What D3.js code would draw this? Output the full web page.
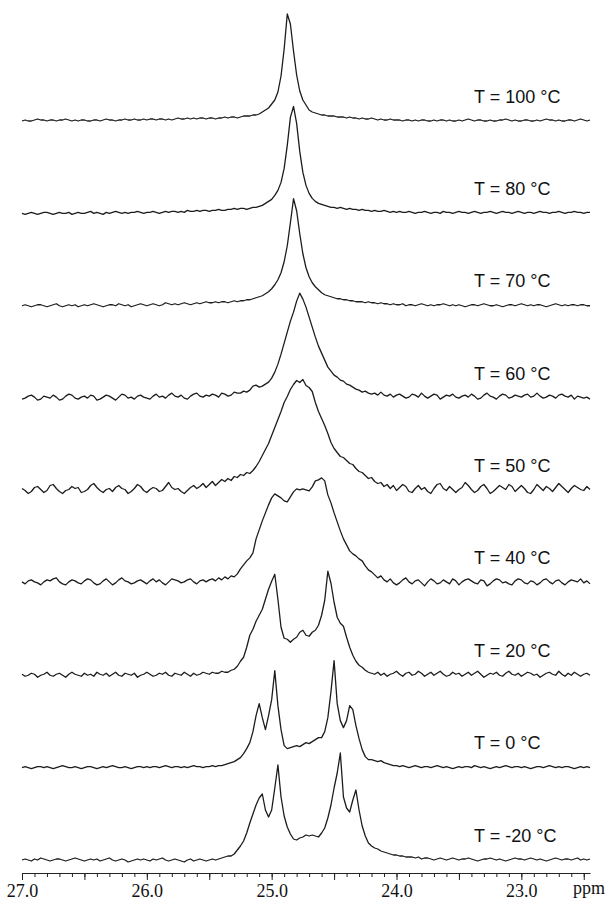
<!DOCTYPE html>
<html lang="en">
<head>
<meta charset="UTF-8">
<title>Variable-temperature spectra</title>
<script src="https://d3js.org/d3.v7.min.js"></script>
<style>
  body { margin: 0; background: #fff; }
  svg { display: block; }
  .trace { fill: none; stroke: #1c1c1c; stroke-width: 1.3px; stroke-linejoin: round; }
  .temp { font-family: "Liberation Sans", Arial, sans-serif; font-size: 18px; fill: #111; }
  .axis text, .unit { font-family: "Liberation Serif", "Times New Roman", serif; font-size: 18px; fill: #111; }
  .axis line, .axis path { stroke: #222; }
</style>
</head>
<body>
<script>
// sampling grid in ppm, shared by every trace (27.0 down to 22.45)
const ppmStart = 27.0, ppmStep = 0.025;

const temps = ["100", "80", "70", "60", "50", "40", "20", "0", "-20"];

// intensities, one value per grid point (183 each)
const s100 = [
  0,1,0,0,1,2,1,1,0,1, 1,0,1,1,2,1,0,1,0,1,
  1,0,0,1,1,0,1,2,1,1, 0,1,1,2,1,1,2,1,1,2,
  1,2,2,1,2,2,1,2,1,2, 3,2,2,3,2,3,2,3,3,2,
  3,3,2,3,3,4,3,4,4,3, 4,5,5,5,6,6,7,9,11,13,
  17,21,29,45,72,107,97,70,46,30, 21,16,11,9,8,7,6,6,5,5,
  5,4,4,4,3,4,3,3,2,3, 2,2,3,2,1,2,1,1,2,1,
  1,1,0,1,1,0,1,0,1,1, 0,0,1,0,1,1,0,1,0,0,
  1,0,1,2,1,0,1,1,0,0, 1,0,0,1,1,2,1,0,1,0,
  0,1,1,0,0,1,0,1,2,1, 1,0,1,0,0,1,1,0,1,2,
  1,0,1
];
const s80 = [
  0,-1,0,1,0,-1,0,1,1,0, -1,0,1,0,0,1,-1,0,1,0,
  0,1,2,0,1,0,-1,1,0,1, 2,1,0,1,0,1,1,2,1,0,
  1,1,2,1,0,1,2,1,2,2, 1,2,1,3,2,2,3,2,3,3,
  2,3,3,4,3,3,4,4,5,4, 5,5,4,5,6,6,7,8,10,12,
  14,18,23,31,45,68,96,107,90,62, 41,28,20,15,12,10,9,8,7,6,
  6,5,6,5,4,5,4,4,3,4, 3,3,2,3,2,2,3,2,1,2,
  1,2,1,1,2,1,0,1,1,2, 1,0,1,1,0,2,1,1,0,1,
  2,1,1,0,1,2,1,0,1,1, 2,1,0,1,2,1,1,0,1,2,
  1,0,1,1,0,1,2,1,1,0, 1,1,2,1,0,1,1,2,1,1,
  0,1,1
];
const s70 = [
  0,1,0,-1,0,1,1,0,-1,0, 1,2,0,-1,0,1,0,1,-1,0,
  1,0,1,2,1,0,-1,0,1,1, 0,2,1,0,1,-1,0,1,2,1,
  0,1,2,1,0,1,3,2,1,2, 1,2,3,2,1,2,3,2,3,4,
  3,3,4,3,4,4,3,4,5,4, 5,5,6,6,7,8,9,10,12,14,
  17,21,26,33,44,60,83,107,95,72, 52,38,29,23,19,16,13,11,10,9,
  8,7,7,6,6,5,5,4,4,4, 3,4,3,3,2,3,2,2,1,2,
  1,1,2,0,1,1,0,1,2,1, 0,1,0,1,1,2,1,0,1,0,
  1,0,-1,0,1,1,0,1,2,1, 0,0,1,0,-1,0,1,1,0,1,
  2,1,0,1,0,1,1,0,-1,0, 1,2,1,0,1,0,1,1,0,1,
  1,0,0
];
const s60 = [
  -1,0,2,3,1,-2,-1,2,1,0, 3,1,-2,-1,2,4,3,0,-1,1,
  2,0,3,2,-2,-1,1,3,2,0, -2,1,4,3,0,1,-1,2,3,1,
  0,-1,2,4,1,2,0,3,5,2, 1,3,0,-1,2,4,5,2,1,3,
  2,4,3,1,5,4,2,3,6,5, 5,7,6,8,12,13,11,12,14,16,
  20,26,34,44,55,66,77,86,97,105, 99,91,81,71,61,52,45,38,31,27,
  23,21,18,17,14,13,11,9,8,6, 7,5,4,5,3,6,3,2,4,1,
  3,4,2,0,1,4,3,1,5,2, 0,2,4,3,-1,1,3,2,4,1,
  0,2,3,1,4,2,-1,0,3,5, 2,1,-1,2,4,3,0,1,3,2,
  1,3,4,1,2,5,2,0,1,3, 2,0,3,4,2,1,3,-1,2,1,
  0,1,-1
];
const s50 = [
  2,0,-3,-1,3,4,1,-2,0,5, 6,2,-1,-3,0,1,4,2,3,-2,
  -1,1,5,7,3,0,-2,1,2,-1, 3,5,2,1,-3,-1,2,6,4,0,
  -2,1,3,2,-1,0,4,8,3,1, 2,-1,-3,0,3,5,2,4,7,3,
  6,9,5,8,11,9,12,10,14,13, 16,15,18,17,20,24,29,35,41,47,
  55,63,71,79,88,94,101,106,110,108, 111,105,103,99,88,79,72,65,57,48,
  42,38,34,33,30,27,26,22,19,18, 15,12,13,9,7,8,4,6,2,5,
  0,3,6,4,-1,-2,2,5,1,3, -1,-3,2,6,7,2,0,4,1,-2,
  1,3,8,5,1,-2,0,4,6,2, -3,-1,2,5,3,1,6,4,-1,2,
  5,2,-2,-3,1,6,3,0,4,2, -1,3,7,4,1,-2,2,5,3,1,
  0,4,1
];
const s40 = [
  1,-1,2,3,1,0,-2,1,3,2, 4,5,1,-1,-2,1,3,2,0,-1,
  2,4,3,0,-2,-1,2,4,1,-2, 0,3,5,2,1,-1,0,2,3,1,
  -1,2,4,1,3,0,-2,1,4,3, 2,0,1,3,4,1,-1,2,3,1,
  3,4,2,5,3,6,4,7,6,9, 14,18,22,25,30,44,53,62,70,78,
  85,89,87,85,82,81,86,91,94,93, 94,93,92,96,102,103,105,102,88,80,
  70,61,52,44,38,32,29,27,24,22, 17,13,11,8,5,7,3,1,4,0,
  -2,0,3,5,1,-1,2,3,0,-3, 1,4,2,-1,0,3,1,-1,4,2,
  -2,1,3,4,2,0,-1,3,2,-3, -1,2,4,3,0,1,-1,-2,2,4,
  3,0,-1,2,1,-2,0,3,4,1, -1,2,3,0,-2,1,3,2,1,4,
  0,2,-1
];
const s20 = [
  1,-1,0,2,1,-2,0,1,3,0, -1,1,2,0,-2,1,3,1,0,-1,
  2,0,1,-1,3,1,0,2,-1,1, 3,0,-1,2,1,0,2,-2,0,1,
  3,1,-1,0,2,1,3,0,-1,2, 1,0,3,1,-1,2,0,1,3,2,
  1,3,2,2,4,3,3,5,6,9, 14,18,28,40,46,54,60,66,76,86,
  94,101,76,48,37,36,33,36,38,43, 45,40,39,43,45,50,60,75,104,92,
  73,58,52,49,38,28,20,14,10,8, 5,3,2,1,3,0,2,-1,1,2,
  4,1,-1,2,3,0,1,4,2,-1, 1,3,0,2,4,1,-1,0,3,1,
  2,-1,1,3,0,2,4,1,-2,0, 2,1,3,0,-1,2,4,1,0,2,
  -1,1,3,2,0,1,-2,0,2,3, 1,0,4,1,-1,2,0,3,1,-1,
  1,2,0
];
const s0 = [
  0,1,0,-1,0,1,1,0,1,0, -1,0,1,2,1,0,0,1,0,-1,
  0,1,1,0,-1,0,1,0,1,2, 1,0,0,1,0,-1,0,1,1,0,
  1,0,1,1,0,1,2,1,0,1, 1,0,1,0,1,2,1,1,0,1,
  1,2,1,2,2,3,4,5,6,8, 10,14,19,25,36,52,64,50,38,52,
  68,97,62,38,22,19,20,21,22,21, 23,25,24,26,28,30,30,36,50,76,
  107,64,47,40,47,62,58,42,29,18, 11,8,8,7,6,7,5,4,3,2,
  2,1,2,1,0,1,2,1,0,1, 1,0,1,2,1,0,1,0,-1,0,
  1,0,1,1,0,2,1,0,1,0, -1,0,1,0,1,2,1,0,1,1,
  0,1,0,-1,0,1,1,0,1,2, 1,0,1,0,1,1,0,-1,0,1,
  0,1,0
];
const sm20 = [
  0,1,0,-1,1,0,2,1,0,-1, 0,1,1,0,-1,0,1,2,1,0,
  -1,0,1,0,1,-1,0,1,2,0, -1,0,1,0,-2,-1,0,1,0,1,
  0,-1,1,0,1,2,0,-1,0,1, 0,-1,-2,0,1,-1,0,1,0,-1,
  0,1,0,1,2,3,4,4,6,10, 14,19,27,37,46,55,62,66,50,43,
  50,72,95,63,44,33,26,21,20,22, 23,25,24,25,24,23,27,32,42,55,
  72,87,107,63,52,48,60,70,50,34, 24,17,14,12,11,9,8,7,6,5,
  5,4,4,3,3,3,2,3,1,2, 2,1,0,1,2,1,0,1,2,1,
  0,1,1,2,1,0,-1,0,1,1, 2,1,0,1,0,-1,0,1,2,1,
  1,0,1,2,1,0,1,0,-1,0, 1,2,1,0,1,1,0,1,2,0,
  1,0,1
];
const spectra = [s100, s80, s70, s60, s50, s40, s20, s0, sm20];

const majorTicks = [27, 26, 25, 24, 23];
const halfTicks = [26.5, 25.5, 24.5, 23.5, 22.5];
const minorTicks = d3.range(0, 46).map(i => +(27 - i * 0.1).toFixed(1));

const width = 605, height = 901;

const svg = d3.select("body").append("svg")
    .attr("width", width)
    .attr("height", height);

const x = d3.scaleLinear().domain([27.0, 22.45]).range([22, 590]);
const rowY = d3.scalePoint().domain(temps).range([121, 860]);
const amp = d3.scaleLinear().domain([0, 100]).range([0, 100]);

const line = d3.line()
    .x((d, i) => x(ppmStart - i * ppmStep))
    .y(d => -amp(d));

const rows = svg.selectAll(".row")
    .data(temps)
    .enter().append("g")
    .attr("class", "row")
    .attr("transform", t => `translate(0,${rowY(t)})`);

rows.append("path")
    .attr("class", "trace")
    .attr("d", (t, i) => line(spectra[i]));

rows.append("text")
    .attr("class", "temp")
    .attr("x", 474)
    .attr("y", -18.5)
    .text(t => `T = ${t} °C`);

// ppm axis
const axisY = 873;
svg.append("g")
    .attr("class", "axis")
    .attr("transform", `translate(0,${axisY})`)
    .call(d3.axisBottom(x).tickValues(minorTicks).tickSize(4).tickSizeOuter(0).tickFormat(""));

svg.append("g")
    .attr("class", "axis")
    .attr("transform", `translate(0,${axisY})`)
    .call(d3.axisBottom(x)
        .tickValues(majorTicks.concat(halfTicks))
        .tickSize(7)
        .tickPadding(4)
        .tickFormat(d => majorTicks.includes(d) ? d3.format(".1f")(d) : ""))
    .call(g => g.select(".domain").remove());

svg.append("text")
    .attr("class", "unit")
    .attr("x", 573)
    .attr("y", 894)
    .text("ppm");
</script>
</body>
</html>
